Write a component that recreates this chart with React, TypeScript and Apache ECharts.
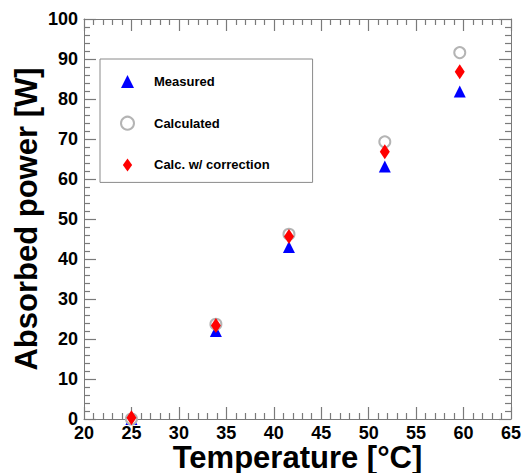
import React, { useEffect, useRef } from "react";
import * as echarts from "echarts";

// Temperatures of the five operating points [°C]
const temperatures: number[] = [25.0, 33.9, 41.6, 51.7, 59.6];
// Absorbed power [W]
const measured: number[] = [0.0, 22.0, 43.0, 63.1, 81.9];
const calculated: number[] = [0.0, 23.7, 46.2, 69.3, 91.6];
const calcCorrected: number[] = [0.3, 23.4, 45.6, 66.8, 86.8];

const seriesNames: string[] = ["Measured", "Calculated", "Calc. w/ correction"];

const FONT = "'Liberation Sans', Arial, Helvetica, sans-serif";
const AXIS_GRAY = "#7a7a7a";
// slim diamond (10 wide x 14 tall)
const DIAMOND = "path://M5,0L10,7L5,14L0,7Z";

const pairs = (ys: number[]) => temperatures.map((t, i) => [t, ys[i]]);

// axis drawn as one side of the plot frame, ticks pointing inwards
const frame = (position: string) => ({
  position,
  axisLine: { show: true, onZero: false, lineStyle: { color: AXIS_GRAY, width: 1 } },
  axisTick: { show: true, inside: true, length: 12, lineStyle: { color: AXIS_GRAY, width: 1.2 } },
  minorTick: { show: true, splitNumber: 5, length: 6, lineStyle: { color: AXIS_GRAY, width: 1.2 } },
  splitLine: { show: false },
});

function buildOption() {
  const tickLabel = { fontFamily: FONT, fontWeight: "bold", fontSize: 18, color: "#000" };
  const titleText = { fontFamily: FONT, fontWeight: "bold", fontSize: 31, color: "#000" };
  const xRange = { type: "value", min: 20, max: 65, interval: 5 };
  const yRange = { type: "value", min: 0, max: 100, interval: 10 };
  return {
    animation: false,
    backgroundColor: "#ffffff",
    grid: { left: 84, top: 19, right: 12, bottom: 54, outerBoundsMode: "none" },
    xAxis: [
      {
        ...xRange, ...frame("bottom"),
        axisLabel: { ...tickLabel, margin: 5 },
        name: "Temperature [°C]", nameLocation: "middle", nameGap: 23,
        nameMoveOverlap: false, nameTextStyle: titleText,
      },
      { ...xRange, ...frame("top"), axisLabel: { show: false } },
    ],
    yAxis: [
      {
        ...yRange, ...frame("left"),
        axisLabel: { ...tickLabel, margin: 6 },
        name: "Absorbed power [W]", nameLocation: "middle", nameGap: 42,
        nameMoveOverlap: false, nameTextStyle: titleText,
      },
      { ...yRange, ...frame("right"), axisLabel: { show: false } },
    ],
    legend: {
      orient: "vertical",
      left: 100,
      top: 59,
      padding: [16, 43, 11, 20],
      itemWidth: 13,
      itemHeight: 13,
      itemGap: 27.7,
      borderColor: "#8a8a8a",
      borderWidth: 1,
      backgroundColor: "#fff",
      textStyle: { fontFamily: FONT, fontWeight: "bold", fontSize: 13, color: "#000", padding: [0, 0, 0, 15] },
      data: [
        { name: seriesNames[0], icon: "triangle" },
        { name: seriesNames[1], icon: "emptyCircle" },
        { name: seriesNames[2], icon: DIAMOND },
      ],
    },
    series: [
      {
        name: seriesNames[0], type: "scatter", data: pairs(measured),
        symbol: "triangle", symbolSize: 12, itemStyle: { color: "#0000ff", opacity: 1 },
      },
      {
        name: seriesNames[1], type: "scatter", data: pairs(calculated),
        symbol: "emptyCircle", symbolSize: 11,
        itemStyle: { color: "#b4b4b4", borderColor: "#b4b4b4", borderWidth: 1.2, opacity: 1 },
      },
      {
        name: seriesNames[2], type: "scatter", data: pairs(calcCorrected),
        symbol: DIAMOND, symbolSize: [10, 15], itemStyle: { color: "#ff0000", opacity: 1 },
      },
    ],
  };
}

export default function App() {
  const ref = useRef<HTMLDivElement>(null);

  useEffect(() => {
    if (!ref.current) return;
    const chart = echarts.init(ref.current, undefined, { renderer: "svg" });
    chart.setOption(buildOption() as any);
    return () => chart.dispose();
  }, []);

  return <div ref={ref} style={{ position: "fixed", left: 0, top: 0, width: 523, height: 473 }} />;
}
